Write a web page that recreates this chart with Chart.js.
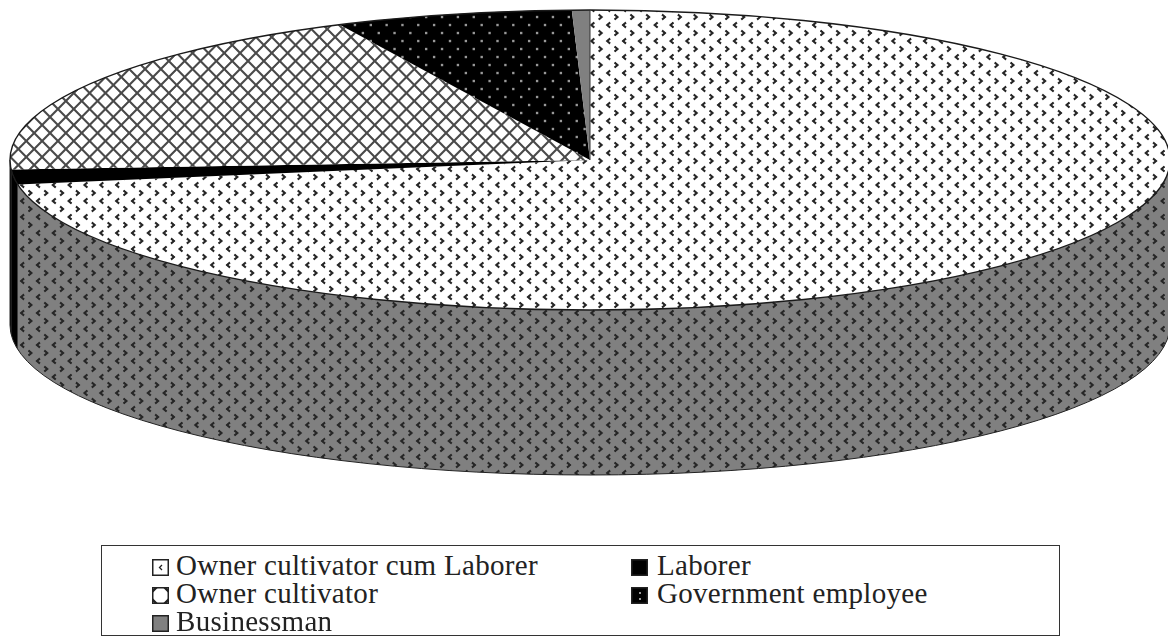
<!DOCTYPE html>
<html><head><meta charset="utf-8">
<script src="https://cdn.jsdelivr.net/npm/chart.js@4"></script>
<style>
html,body{margin:0;padding:0;background:#fff;overflow:hidden}
#wrap{position:relative;width:1168px;height:637px}
canvas#c{position:absolute;left:0;top:0}
#legend{position:absolute;left:101px;top:545px;width:957px;height:89px;border:1.5px solid #333;background:#fff}
.item{position:absolute;height:28px;font:29px/28px "Liberation Serif","Times New Roman",serif;letter-spacing:.3px;color:#222;white-space:nowrap}
.item canvas{position:absolute;left:0;top:8px}
.item span{position:absolute;left:24px;top:0}
</style></head><body>
<div id="wrap"><canvas id="c" width="1168" height="637"></canvas><div id="legend"></div></div>
<script>
const categories=["Owner cultivator cum Laborer","Laborer","Owner cultivator","Government employee","Businessman"];
const shares=[72.4,1.6,18.9,6.6,0.5];
const legendColumns=[0,1,0,1,0];
const legendRows=[0,0,1,1,2];
const patternKinds=["chevron","solid","cross","dots","solid"];
const topColors=["#ffffff","#000000","#ffffff","#000000","#808080"];
const wallColors=["#808080","#000000","#000000","#000000","#808080"];

const K=150/580, DEPTH=165, TILE=15.84;
function tile(kind,bg){
  const t=document.createElement('canvas');t.width=t.height=32;
  const g=t.getContext('2d');g.fillStyle=bg;g.fillRect(0,0,32,32);g.scale(2,2);
  if(kind==='chevron'){
    g.strokeStyle='#262626';g.lineWidth=2.1;
    g.beginPath();g.moveTo(2.2,1.4);g.lineTo(5.2,4);g.lineTo(2.2,6.6);g.stroke();
    g.beginPath();g.moveTo(13.8,9.4);g.lineTo(10.8,12);g.lineTo(13.8,14.6);g.stroke();
  }else if(kind==='cross'){
    g.strokeStyle='#4a4a4a';g.lineWidth=2.1;
    for(let i=-16;i<=16;i+=16){
      g.beginPath();g.moveTo(i,0);g.lineTo(i+16,16);g.stroke();
      g.beginPath();g.moveTo(i+16,0);g.lineTo(i,16);g.stroke();
    }
  }else if(kind==='dots'){
    g.fillStyle='#999';
    g.fillRect(2.8,2.8,2.4,2.4);g.fillRect(10.8,10.8,2.4,2.4);
  }
  return t;
}
function pattern(ctx,kind,bg,matrix){
  const p=ctx.createPattern(tile(kind,bg),'repeat');
  p.setTransform(matrix);
  return p;
}
const cv=document.getElementById('c');
const ctx=cv.getContext('2d');
const cx=590, cy=160;
const base=()=>new DOMMatrix().translate(10.4,-3).scale(TILE/32,0.5);
const squishInv=new DOMMatrix().translate(cx,cy).scale(1,1/K).translate(-cx,-cy);
const topFills=patternKinds.map((k,i)=>k==='solid'?topColors[i]:pattern(ctx,k,topColors[i],squishInv.multiply(base())));
const wallFills=wallColors.map(col=>col==='#000000'?col:pattern(ctx,'chevron',col,base()));

const pie3d={
  id:'pie3d',
  beforeDatasetsDraw(chart){
    const c=chart.ctx, arcs=chart.getDatasetMeta(0).data;
    arcs.forEach((a,i)=>{
      const s=Math.max(a.startAngle,0), e=Math.min(a.endAngle,Math.PI);
      if(e<=s) return;
      const rx=a.outerRadius, ry=rx*K;
      c.beginPath();
      c.ellipse(a.x,a.y,rx,ry,0,s,e);
      c.ellipse(a.x,a.y+DEPTH,rx,ry,0,e,s,true);
      c.closePath();
      c.fillStyle=wallFills[i];c.fill();
    });
    const a=arcs[0], rx=a.outerRadius, ry=rx*K;
    c.beginPath();
    c.moveTo(a.x-rx,a.y);c.lineTo(a.x-rx,a.y+DEPTH);
    c.ellipse(a.x,a.y+DEPTH,rx,ry,0,Math.PI,0,true);
    c.strokeStyle='#222';c.lineWidth=1;c.stroke();
    c.save();
    c.translate(a.x,a.y);c.scale(1,K);c.translate(-a.x,-a.y);
  },
  afterDatasetsDraw(chart){
    const c=chart.ctx, arcs=chart.getDatasetMeta(0).data;
    c.restore();
    const a=arcs[0], rx=a.outerRadius, ry=rx*K;
    c.beginPath();c.ellipse(a.x,a.y,rx,ry,0,0,Math.PI*2);
    c.strokeStyle='#1a1a1a';c.lineWidth=1.4;c.stroke();
    c.beginPath();c.moveTo(a.x,a.y);c.lineTo(a.x,a.y-ry);c.strokeStyle='#333';c.lineWidth=1;c.stroke();
  }
};

new Chart(ctx,{
  type:'pie',
  data:{labels:categories,datasets:[{data:shares,backgroundColor:topFills,borderWidth:0,radius:580}]},
  options:{
    responsive:false,animation:false,
    layout:{padding:{left:12,bottom:317}},
    plugins:{legend:{display:false},tooltip:{enabled:false}},
    events:[]
  },
  plugins:[pie3d]
});

const legend=document.getElementById('legend');
categories.forEach((name,i)=>{
  const it=document.createElement('div');it.className='item';
  it.style.left=(legendColumns[i]?529:50)+'px';
  it.style.top=(5+legendRows[i]*28)+'px';
  const sw=document.createElement('canvas');sw.width=sw.height=17;
  const g=sw.getContext('2d');
  g.fillStyle=topColors[i];g.fillRect(0,0,17,17);
  const k=patternKinds[i];
  if(k==='chevron'){g.strokeStyle='#222';g.lineWidth=1.3;g.beginPath();g.moveTo(10,6);g.lineTo(7.5,8.5);g.lineTo(10,11);g.stroke();}
  if(k==='cross'){g.strokeStyle='#222';g.lineWidth=2.4;g.beginPath();g.moveTo(0,5);g.lineTo(5,0);g.moveTo(12,0);g.lineTo(17,5);g.moveTo(0,12);g.lineTo(5,17);g.moveTo(12,17);g.lineTo(17,12);g.stroke();}
  if(k==='dots'){g.fillStyle='#999';g.fillRect(8,5,2,2);g.fillRect(8,11,2,2);}
  g.strokeStyle='#222';g.lineWidth=1.5;g.strokeRect(.75,.75,15.5,15.5);
  const t=document.createElement('span');t.textContent=name;
  if(legendColumns[i]) t.style.left='26px';
  it.append(sw,t);legend.append(it);
});
</script></body></html>
